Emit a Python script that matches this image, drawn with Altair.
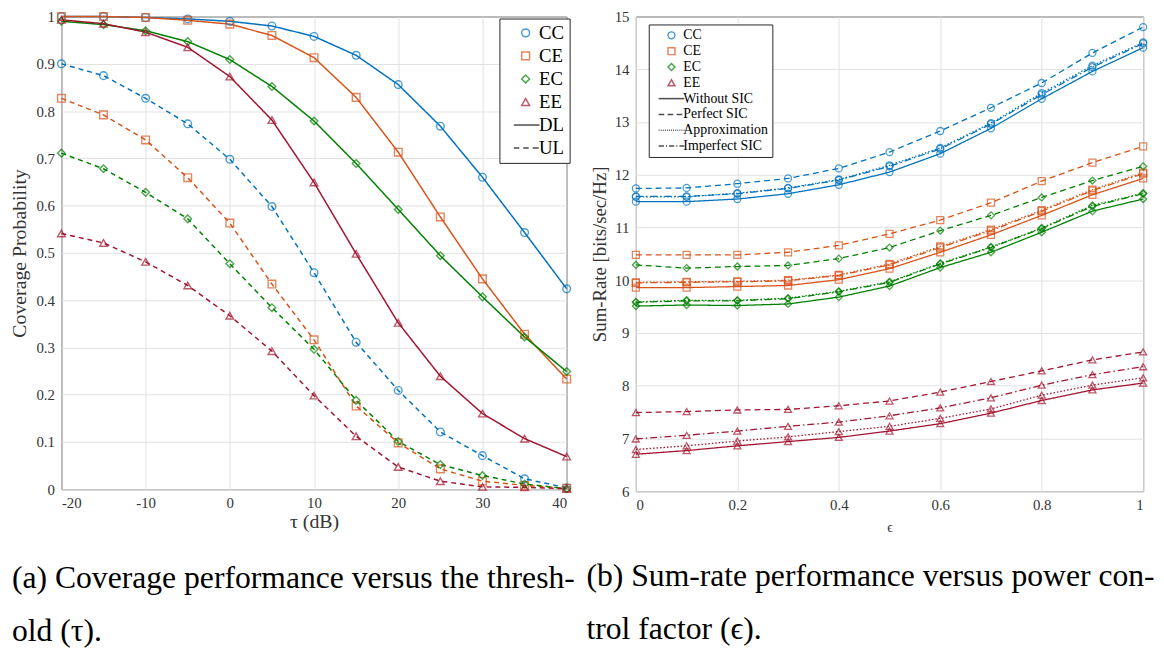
import altair as alt
import pandas as pd

# ---------------- data: panel (a) coverage ----------------
tau = [-20, -15, -10, -5, 0, 5, 10, 15, 20, 25, 30, 35, 40]
schemes = ["CC", "CE", "EC", "EE"]
links = ["DL", "UL"]

dl_cc = [1.0, 1.0, 0.998, 0.995, 0.99, 0.98, 0.958, 0.918, 0.856, 0.768, 0.66, 0.543, 0.424]
dl_ce = [1.0, 1.0, 0.998, 0.992, 0.984, 0.96, 0.913, 0.829, 0.713, 0.576, 0.445, 0.328, 0.233]
dl_ec = [0.99, 0.983, 0.97, 0.947, 0.909, 0.852, 0.779, 0.689, 0.592, 0.494, 0.407, 0.322, 0.249]
dl_ee = [0.993, 0.985, 0.967, 0.935, 0.873, 0.781, 0.649, 0.498, 0.352, 0.239, 0.160, 0.107, 0.069]

ul_cc = [0.9, 0.875, 0.827, 0.773, 0.698, 0.598, 0.458, 0.311, 0.209, 0.121, 0.071, 0.022, 0.003]
ul_ce = [0.827, 0.792, 0.739, 0.659, 0.563, 0.434, 0.316, 0.176, 0.098, 0.043, 0.017, 0.008, 0.002]
ul_ec = [0.711, 0.678, 0.628, 0.572, 0.477, 0.384, 0.296, 0.188, 0.101, 0.052, 0.029, 0.011, 0.001]
ul_ee = [0.541, 0.521, 0.481, 0.431, 0.367, 0.292, 0.198, 0.112, 0.047, 0.017, 0.005, 0.004, 0.001]

# ---------------- data: panel (b) sum-rate ----------------
eps = [0, 0.1, 0.2, 0.3, 0.4, 0.5, 0.6, 0.7, 0.8, 0.9, 1.0]
sic_modes = ["Without SIC", "Perfect SIC", "Approximation", "Imperfect SIC"]

cc_without = [11.49, 11.49, 11.54, 11.64, 11.81, 12.05, 12.40, 12.88, 13.44, 13.96, 14.41]
cc_perfect = [11.74, 11.75, 11.83, 11.93, 12.12, 12.43, 12.83, 13.27, 13.74, 14.31, 14.80]
cc_approx = [11.58, 11.58, 11.65, 11.75, 11.91, 12.18, 12.51, 12.98, 13.55, 14.07, 14.51]
cc_imperf = [11.59, 11.59, 11.64, 11.74, 11.90, 12.16, 12.49, 12.96, 13.52, 14.04, 14.49]

ce_without = [9.86, 9.86, 9.88, 9.90, 10.01, 10.22, 10.53, 10.86, 11.23, 11.62, 11.93]
ce_perfect = [10.48, 10.48, 10.48, 10.53, 10.66, 10.88, 11.14, 11.47, 11.88, 12.23, 12.54]
ce_approx = [9.96, 9.97, 9.98, 10.00, 10.10, 10.31, 10.64, 10.96, 11.33, 11.72, 12.04]
ce_imperf = [9.95, 9.96, 9.97, 9.99, 10.09, 10.29, 10.62, 10.94, 11.31, 11.70, 12.02]

ec_without = [9.51, 9.53, 9.52, 9.55, 9.68, 9.89, 10.24, 10.53, 10.91, 11.31, 11.54]
ec_perfect = [10.29, 10.23, 10.26, 10.28, 10.41, 10.62, 10.94, 11.23, 11.57, 11.89, 12.16]
ec_approx = [9.59, 9.62, 9.62, 9.66, 9.79, 9.97, 10.32, 10.63, 10.99, 11.42, 11.65]
ec_imperf = [9.58, 9.61, 9.61, 9.65, 9.78, 9.96, 10.31, 10.62, 10.98, 11.40, 11.64]

ee_without = [6.70, 6.77, 6.86, 6.94, 7.02, 7.14, 7.28, 7.48, 7.72, 7.92, 8.05]
ee_perfect = [7.49, 7.51, 7.54, 7.55, 7.62, 7.71, 7.88, 8.08, 8.28, 8.49, 8.64]
ee_approx = [6.79, 6.86, 6.95, 7.03, 7.13, 7.23, 7.38, 7.56, 7.82, 8.01, 8.15]
ee_imperf = [6.99, 7.06, 7.14, 7.23, 7.31, 7.43, 7.58, 7.77, 8.01, 8.21, 8.36]

captions_a = ["(a) Coverage performance versus the thresh-", "old (\u03c4)."]
captions_b = ["(b) Sum-rate performance versus power con-", "trol factor (\u03f5)."]

# ---------------- styling ----------------
BLUE, ORANGE, GREEN, RED = "#0072BD", "#D95319", "#008000", "#A2142F"
SERIF = "Liberation Serif"

cov = {("CC", "DL"): dl_cc, ("CE", "DL"): dl_ce, ("EC", "DL"): dl_ec, ("EE", "DL"): dl_ee,
       ("CC", "UL"): ul_cc, ("CE", "UL"): ul_ce, ("EC", "UL"): ul_ec, ("EE", "UL"): ul_ee}
rows_a = []
for (s, l), vals in cov.items():
    for t, v in zip(tau, vals):
        rows_a.append({"tau": t, "prob": v, "key_a": s, "link": l})
df_a = pd.DataFrame(rows_a)

rate = {
    ("CC", "Without SIC"): cc_without, ("CC", "Perfect SIC"): cc_perfect,
    ("CC", "Approximation"): cc_approx, ("CC", "Imperfect SIC"): cc_imperf,
    ("CE", "Without SIC"): ce_without, ("CE", "Perfect SIC"): ce_perfect,
    ("CE", "Approximation"): ce_approx, ("CE", "Imperfect SIC"): ce_imperf,
    ("EC", "Without SIC"): ec_without, ("EC", "Perfect SIC"): ec_perfect,
    ("EC", "Approximation"): ec_approx, ("EC", "Imperfect SIC"): ec_imperf,
    ("EE", "Without SIC"): ee_without, ("EE", "Perfect SIC"): ee_perfect,
    ("EE", "Approximation"): ee_approx, ("EE", "Imperfect SIC"): ee_imperf,
}
rows_b = []
for (s, m), vals in rate.items():
    for e, v in zip(eps, vals):
        rows_b.append({"eps": e, "rate": v, "key_b": s, "sic": m})
df_b = pd.DataFrame(rows_b)

# legend symbol paths (lines drawn as symbols)
LA_SOLID = "M-3,0H3.5"
LA_DASH = "M-3,0H-1.6M-0.6,0H0.8M1.8,0H3.3"
LB_SOLID = "M-3.7,0H3.7"
LB_DASH = "M-3.7,0H-2.1M-1.1,0H0.5M1.5,0H3.1"
LB_DOT = "".join(f"M{x/10:.2f},0H{x/10 + 0.25:.2f}" for x in range(-37, 37, 6))
LB_DASHDOT = "M-3.7,0H-2.2M-1.6,0H-1.3M-0.7,0H0.8M1.4,0H1.7M2.3,0H3.7"

dom_a = schemes + links
color_a = alt.Scale(domain=dom_a, range=[BLUE, ORANGE, GREEN, RED, "black", "black"])
shape_a = alt.Scale(domain=dom_a, range=["circle", "square", "diamond", "triangle-up", LA_SOLID, LA_DASH])
dash_a = alt.Scale(domain=links, range=[[1, 0], [5, 4]])

dom_b = schemes + sic_modes
color_b = alt.Scale(domain=dom_b, range=[BLUE, ORANGE, GREEN, RED, "black", "black", "black", "black"])
shape_b = alt.Scale(domain=dom_b, range=["circle", "square", "diamond", "triangle-up",
                                         LB_SOLID, LB_DASH, LB_DOT, LB_DASHDOT])
dash_b = alt.Scale(domain=sic_modes, range=[[1, 0], [6, 4], [1.5, 2], [7, 3, 1.5, 3]])

legend_a = alt.Legend(orient="none", legendX=443, legendY=2, title=None, symbolSize=64,
                      symbolStrokeWidth=1.5, labelFont=SERIF, labelFontSize=19, labelColor="black",
                      padding=5, rowPadding=3.3, strokeColor="#262626", fillColor="white",
                      labelOffset=4, symbolOffset=12, cornerRadius=0)
legend_b = alt.Legend(orient="none", legendX=13, legendY=8, title=None, symbolSize=49,
                      symbolStrokeWidth=1.5, labelFont=SERIF, labelFontSize=14, labelColor="black",
                      padding=4, rowPadding=2.0, strokeColor="#262626", fillColor="white",
                      labelOffset=5, symbolOffset=12, cornerRadius=0)

cap_style = dict(orient="bottom", anchor="start", frame="group", font=SERIF, fontSize=32,
                 fontWeight="normal", color="black", lineHeight=54, dx=-50)

xa = alt.X("tau:Q", scale=alt.Scale(domain=[-20, 40], nice=False),
           axis=alt.Axis(values=[-20, -10, 0, 10, 20, 30, 40], title="\u03c4 (dB)",
                         labelExpr="'' + datum.value", titlePadding=1, titleFontSize=20))
ya = alt.Y("prob:Q", scale=alt.Scale(domain=[0, 1], nice=False),
           axis=alt.Axis(values=[0, 0.1, 0.2, 0.3, 0.4, 0.5, 0.6, 0.7, 0.8, 0.9, 1],
                         title="Coverage Probability", labelExpr="'' + datum.value",
                         titlePadding=7, titleFontSize=20))

lines_a = alt.Chart(df_a).mark_line(strokeWidth=1.5).encode(
    x=xa, y=ya,
    color=alt.Color("key_a:N", scale=color_a, legend=None),
    strokeDash=alt.StrokeDash("link:N", scale=dash_a, legend=None),
)
points_a = alt.Chart(df_a).mark_point(size=60, strokeWidth=1.4, filled=False).encode(
    x=xa, y=ya,
    color=alt.Color("key_a:N", scale=color_a, legend=legend_a),
    shape=alt.Shape("key_a:N", scale=shape_a, legend=legend_a),
)
panel_a = alt.layer(lines_a, points_a).resolve_legend(
    color="independent", shape="independent", strokeDash="independent"
).properties(
    width=511, height=478,
    title=alt.TitleParams(text=captions_a, offset=32, **cap_style))

xb = alt.X("eps:Q", scale=alt.Scale(domain=[0, 1], nice=False),
           axis=alt.Axis(values=[0, 0.2, 0.4, 0.6, 0.8, 1], title="\u03f5",
                         labelExpr="'' + datum.value", titlePadding=8, titleFontSize=14))
yb = alt.Y("rate:Q", scale=alt.Scale(domain=[6, 15], nice=False),
           axis=alt.Axis(values=list(range(6, 16)), title="Sum-Rate [bits/sec/Hz]",
                         labelExpr="'' + datum.value", titlePadding=5, titleFontSize=19))

lines_b = alt.Chart(df_b).mark_line(strokeWidth=1.3).encode(
    x=xb, y=yb,
    color=alt.Color("key_b:N", scale=color_b, legend=None),
    strokeDash=alt.StrokeDash("sic:N", scale=dash_b, legend=None),
)
points_b = alt.Chart(df_b).mark_point(size=50, strokeWidth=1.3, filled=False).encode(
    x=xb, y=yb,
    color=alt.Color("key_b:N", scale=color_b, legend=legend_b),
    shape=alt.Shape("key_b:N", scale=shape_b, legend=legend_b),
)
panel_b = alt.layer(lines_b, points_b).resolve_legend(
    color="independent", shape="independent", strokeDash="independent"
).properties(
    width=513, height=480,
    title=alt.TitleParams(text=captions_b, offset=27, **cap_style))

chart = alt.hconcat(panel_a, panel_b, spacing=70, bounds="flush").resolve_scale(
    x="independent", y="independent", color="independent",
    shape="independent", strokeDash="independent"
).properties(
    padding={"left": 0, "top": -3, "right": 0, "bottom": 0}
).configure_view(
    stroke="#262626", strokeWidth=1
).configure_axis(
    domain=False, ticks=False, grid=True, gridColor="#e2e2e2", gridWidth=1,
    labelFont=SERIF, labelFontSize=15, labelColor="#333333", labelPadding=7,
    titleFont=SERIF, titleFontWeight="normal", titleColor="#333333",
)

chart.save("out.html", embed_options={"renderer": "svg", "actions": False})
